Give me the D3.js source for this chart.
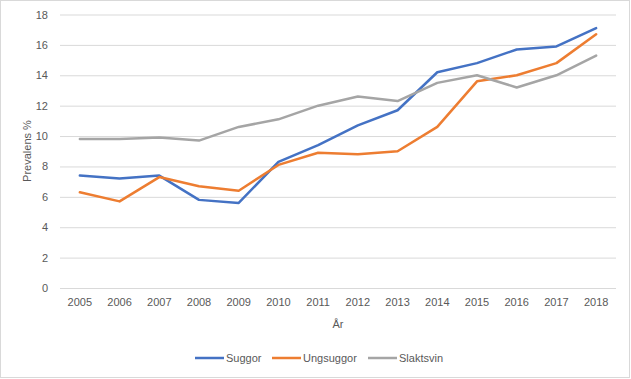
<!DOCTYPE html>
<html><head><meta charset="utf-8">
<script src="https://cdn.jsdelivr.net/npm/d3@7"></script>
<style>body{margin:0;background:#fff}svg{display:block}text{font-family:"Liberation Sans",Arial,sans-serif;fill:#595959}</style>
</head><body><svg id="c" width="631" height="379"></svg>
<script>
const years = ["2005","2006","2007","2008","2009","2010","2011","2012","2013","2014","2015","2016","2017","2018"];
const suggor = [7.4,7.2,7.4,5.8,5.6,8.3,9.4,10.7,11.7,14.2,14.8,15.7,15.9,17.1];
const ungsuggor = [6.3,5.7,7.3,6.7,6.4,8.1,8.9,8.8,9.0,10.6,13.6,14.0,14.8,16.7];
const slaktsvin = [9.8,9.8,9.9,9.7,10.6,11.1,12.0,12.6,12.3,13.5,14.0,13.2,14.0,15.3];
const seriesNames = ["Suggor","Ungsuggor","Slaktsvin"];
const colors = ["#4472C4","#ED7D31","#A5A5A5"];
const yTicks = [0,2,4,6,8,10,12,14,16,18];

const svg = d3.select("#c");
svg.append("rect").attr("x",0.5).attr("y",0.5).attr("width",629).attr("height",377)
  .attr("fill","#fff").attr("stroke","#D9D9D9");

const x = d3.scaleBand().domain(years).range([60,616]);
const y = d3.scaleLinear().domain([0,18]).range([288,14.5]);

const gy = svg.append("g").attr("transform","translate(60,0)")
  .call(d3.axisLeft(y).tickValues(yTicks).tickSize(-556).tickPadding(12));
gy.select(".domain").remove();
gy.selectAll("line").attr("stroke","#D9D9D9");
gy.selectAll("text").style("font-size","11px").attr("fill","#595959");

const gx = svg.append("g").attr("transform","translate(0,288)")
  .call(d3.axisBottom(x).tickSize(0).tickPadding(10));
gx.select(".domain").remove();
gx.selectAll("text").style("font-size","11px").attr("fill","#595959");

svg.append("text").attr("transform","translate(31,151) rotate(-90)").attr("text-anchor","middle")
  .style("font-size","11px").text("Prevalens %");
svg.append("text").attr("x",338).attr("y",328).attr("text-anchor","middle")
  .style("font-size","11px").text("År");

const data = [suggor,ungsuggor,slaktsvin];
const line = d3.line().x((d,i)=>x(years[i])+x.bandwidth()/2).y(d=>y(d));
data.forEach((s,k)=>{
  svg.append("path").datum(s).attr("d",line).attr("fill","none")
    .attr("stroke",colors[k]).attr("stroke-width",2.5).attr("stroke-linejoin","round").attr("stroke-linecap","round");
});

const legX = [195,272,368];
seriesNames.forEach((n,k)=>{
  svg.append("line").attr("x1",legX[k]).attr("x2",legX[k]+29).attr("y1",358).attr("y2",358)
    .attr("stroke",colors[k]).attr("stroke-width",2.5);
  svg.append("text").attr("x",legX[k]+31).attr("y",362).style("font-size","11px").text(n);
});
</script></body></html>
